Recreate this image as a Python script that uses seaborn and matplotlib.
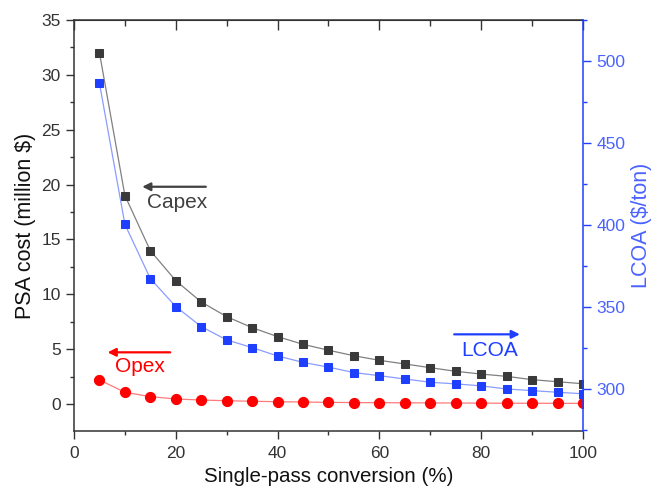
import matplotlib
matplotlib.use("Agg")
import matplotlib.pyplot as plt
import seaborn as sns
from matplotlib.ticker import MultipleLocator

# ===== data =====
conversion = [5, 10, 15, 20, 25, 30, 35, 40, 45, 50,
              55, 60, 65, 70, 75, 80, 85, 90, 95, 100]
capex = [32.0, 19.0, 13.97, 11.24, 9.30, 7.96, 6.96, 6.14, 5.44, 4.90,
         4.40, 3.98, 3.65, 3.31, 2.98, 2.73, 2.52, 2.22, 2.03, 1.85]
opex = [2.19, 1.07, 0.67, 0.46, 0.36, 0.30, 0.25, 0.21, 0.18, 0.15,
        0.13, 0.12, 0.11, 0.10, 0.09, 0.08, 0.07, 0.07, 0.06, 0.06]
lcoa = [486.4, 400.5, 367.4, 350.4, 338.2, 330.1, 325.4, 320.3, 316.4, 313.5,
        310.2, 308.3, 306.3, 304.3, 303.3, 302.1, 300.2, 299.2, 298.2, 297.3]

# ===== style =====
sns.set_style("ticks")
plt.rcParams["font.family"] = ["Liberation Sans", "DejaVu Sans"]
plt.rcParams["axes.unicode_minus"] = False

DARK = "#333333"
BLUE = "#1f3fff"
BLUE_TXT = "#4a63ff"
RED = "#ff0000"

fig = plt.figure(figsize=(6.55, 4.97), dpi=100)
ax = fig.add_axes([0.113, 0.1328, 0.777, 0.827])
ax2 = ax.twinx()

# ===== series =====
sns.lineplot(x=conversion, y=capex, ax=ax, color="#808080", lw=0.9,
             marker="s", markersize=6.2, markerfacecolor="#3a3a3a",
             markeredgecolor="#3a3a3a")
sns.lineplot(x=conversion, y=opex, ax=ax, color="#ff7a7a", lw=0.9,
             marker="o", markersize=7.3, markerfacecolor=RED,
             markeredgecolor=RED)
sns.lineplot(x=conversion, y=lcoa, ax=ax2, color="#8a9cff", lw=0.9,
             marker="s", markersize=6.2, markerfacecolor=BLUE,
             markeredgecolor=BLUE)

# ===== axes =====
ax.set_xlim(0, 100)
ax.set_ylim(-2.46, 35)
ax2.set_ylim(274.6, 525)

ax.xaxis.set_major_locator(MultipleLocator(20))
ax.xaxis.set_minor_locator(MultipleLocator(10))
ax.yaxis.set_major_locator(MultipleLocator(5))
ax.yaxis.set_minor_locator(MultipleLocator(2.5))
ax2.yaxis.set_major_locator(MultipleLocator(50))
ax2.yaxis.set_minor_locator(MultipleLocator(25))

ax.tick_params(axis="both", which="major", direction="out", length=6,
               width=1, color=DARK, labelcolor=DARK, labelsize=12.5)
ax.tick_params(axis="both", which="minor", direction="out", length=3,
               width=1, color=DARK)
ax.tick_params(axis="x", pad=5)
ax.tick_params(axis="y", right=False)
ax2.tick_params(axis="y", which="major", direction="out", length=6,
                width=1, color=BLUE, labelcolor=BLUE_TXT, labelsize=12.5)
ax2.tick_params(axis="y", which="minor", direction="out", length=3,
                width=1, color=BLUE)

# top ticks point inward
top = ax.secondary_xaxis("top")
top.xaxis.set_major_locator(MultipleLocator(20))
top.xaxis.set_minor_locator(MultipleLocator(10))
top.tick_params(which="major", direction="in", length=7, width=1,
                color=DARK, labeltop=False)
top.tick_params(which="minor", direction="in", length=4, width=1,
                color=DARK)
top.spines["top"].set_color(DARK)

for side in ["left", "bottom", "top"]:
    ax.spines[side].set_color(DARK)
    ax.spines[side].set_linewidth(1.1)
    ax2.spines[side].set_visible(False)
ax.spines["right"].set_visible(False)
ax2.spines["right"].set_color(BLUE)
ax2.spines["right"].set_linewidth(1.1)

ax.set_xlabel("Single-pass conversion (%)", fontsize=14.8, color="#111111")
ax.set_ylabel("PSA cost (million $)", fontsize=15.5, color="#111111")
ax2.set_ylabel("LCOA ($/ton)", fontsize=15.5, color=BLUE_TXT)

# ===== annotations =====
ax.annotate("", xy=(13.4, 19.8), xytext=(25.9, 19.8),
            arrowprops=dict(arrowstyle="-|>", color="#404040", lw=1.6,
                            mutation_scale=12, shrinkA=0, shrinkB=0))
ax.text(20.2, 18.4, "Capex", fontsize=15, color="#404040",
        ha="center", va="center")

ax.annotate("", xy=(6.6, 4.71), xytext=(18.9, 4.71),
            arrowprops=dict(arrowstyle="-|>", color=RED, lw=1.6,
                            mutation_scale=12, shrinkA=0, shrinkB=0))
ax.text(13.0, 3.4, "Opex", fontsize=15, color=RED,
        ha="center", va="center")

ax.annotate("", xy=(87.6, 6.35), xytext=(74.7, 6.35),
            arrowprops=dict(arrowstyle="-|>", color=BLUE, lw=1.6,
                            mutation_scale=12, shrinkA=0, shrinkB=0))
ax.text(81.7, 4.9, "LCOA", fontsize=15, color=BLUE,
        ha="center", va="center")

fig.savefig("out.png", dpi=100)
